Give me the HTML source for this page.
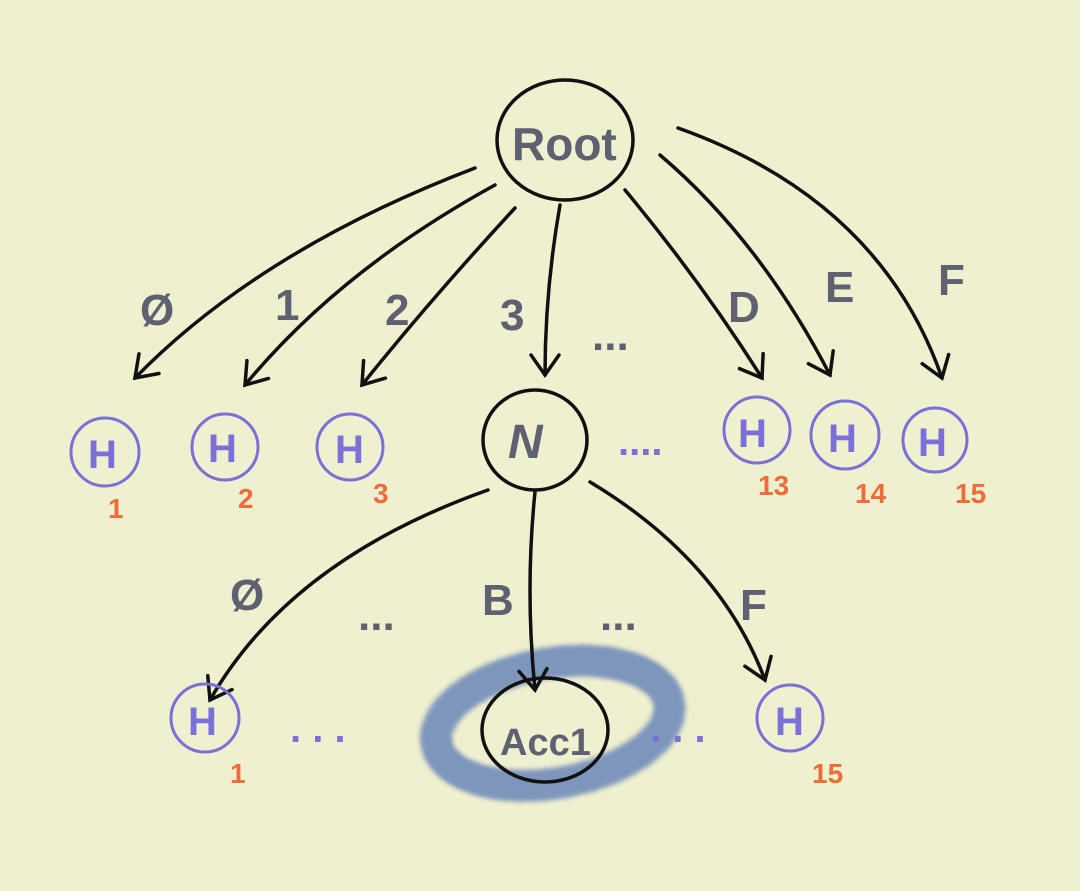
<!DOCTYPE html>
<html><head><style>
body{margin:0;background:#eff0cf;}
svg{display:block}
text{font-family:"Liberation Sans",sans-serif;font-weight:bold}
.g{fill:#5f6070}
.p{fill:#7b6fd8}
.o{fill:#ee6b3a}
</style></head><body>
<svg width="1080" height="891" viewBox="0 0 1080 891" xmlns="http://www.w3.org/2000/svg">
<rect width="1080" height="891" fill="#eff0cf"/>
<defs>
<marker id="a" markerWidth="40" markerHeight="40" refX="22" refY="16" orient="auto" markerUnits="userSpaceOnUse" viewBox="0 0 40 32">
<path d="M2,2 L22,16 L2,30" fill="none" stroke="#111" stroke-width="3.5" stroke-linecap="round"/>
</marker>
<filter id="f" x="-30%" y="-50%" width="160%" height="200%"><feTurbulence baseFrequency="0.8" numOctaves="2"/><feDisplacementMap in="SourceGraphic" scale="6"/><feGaussianBlur stdDeviation="2"/></filter>
</defs>
<ellipse cx="551" cy="722" rx="118" ry="60" transform="rotate(-10 551 722)" fill="none" stroke="#4f6fb5" stroke-width="32" opacity="0.7" filter="url(#f)"/>
<g fill="none" stroke="#111" stroke-width="3.5" stroke-linecap="round">
<ellipse cx="565" cy="140" rx="68" ry="60"/>
<ellipse cx="535" cy="440" rx="52" ry="50"/>
<ellipse cx="545" cy="730" rx="63" ry="52"/>
<path d="M475,168 Q260,250 135,378" marker-end="url(#a)"/>
<path d="M495,185 Q340,270 245,385" marker-end="url(#a)"/>
<path d="M515,208 Q430,300 362,385" marker-end="url(#a)"/>
<path d="M560,205 Q545,290 545,375" marker-end="url(#a)"/>
<path d="M625,190 Q700,280 762,378" marker-end="url(#a)"/>
<path d="M660,155 Q760,240 830,375" marker-end="url(#a)"/>
<path d="M678,128 Q880,200 942,378" marker-end="url(#a)"/>
<path d="M488,490 Q290,560 210,700" marker-end="url(#a)"/>
<path d="M535,492 Q525,590 535,690" marker-end="url(#a)"/>
<path d="M590,482 Q720,560 765,680" marker-end="url(#a)"/>
</g>
<g fill="none" stroke="#7b6fd8" stroke-width="3">
<circle cx="105" cy="452" r="34"/><circle cx="225" cy="447" r="33"/><circle cx="350" cy="447" r="33"/>
<circle cx="757" cy="430" r="33"/><circle cx="845" cy="435" r="34"/><circle cx="935" cy="440" r="32"/>
<circle cx="205" cy="718" r="34"/><circle cx="790" cy="718" r="33"/>
</g>
<g font-size="44" class="g">
<text x="512" y="160" font-size="46">Root</text>
<text x="508" y="458" font-size="48" font-style="italic">N</text>
<text x="500" y="755" font-size="38">Acc1</text>
<text x="140" y="325">Ø</text><text x="275" y="320">1</text><text x="385" y="325">2</text>
<text x="500" y="330">3</text><text x="728" y="322">D</text><text x="825" y="302">E</text><text x="938" y="295">F</text>
<text x="230" y="610">Ø</text><text x="482" y="615">B</text><text x="740" y="620">F</text>
<text x="592" y="350">...</text><text x="358" y="630">...</text><text x="600" y="630">...</text>
</g>
<g class="p" font-size="40">
<text x="88" y="468">H</text><text x="208" y="462">H</text><text x="335" y="463">H</text>
<text x="738" y="447">H</text><text x="828" y="452">H</text><text x="918" y="456">H</text>
<text x="188" y="735">H</text><text x="775" y="735">H</text>
<text x="618" y="455">....</text>
<text x="290" y="742">.  .  .</text><text x="650" y="742">.  .  .</text>
</g>
<g class="o" font-size="28">
<text x="108" y="518">1</text><text x="238" y="508">2</text><text x="373" y="503">3</text>
<text x="758" y="495">13</text><text x="855" y="503">14</text><text x="955" y="503">15</text>
<text x="230" y="783">1</text><text x="812" y="783">15</text>
</g>
</svg>
</body></html>
